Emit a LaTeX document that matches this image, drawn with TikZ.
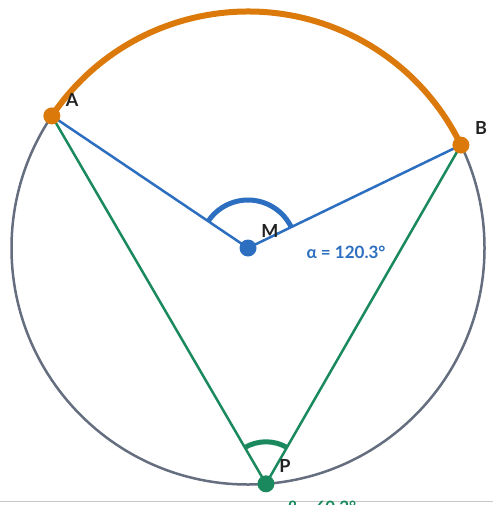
\documentclass[tikz,border=0pt]{standalone}
\usepackage{fontspec}
\setmainfont{Lato}
\usetikzlibrary{calc}
\definecolor{cgrey}{HTML}{646E7E}
\definecolor{corange}{HTML}{DB7A0A}
\definecolor{cblue}{HTML}{2C6FC0}
\definecolor{cgreen}{HTML}{1A8A5E}
\definecolor{clabel}{HTML}{222222}
\tikzset{
  circ/.style={draw=cgrey, line width=2.5pt},
  bluel/.style={draw=cblue, line width=2.5pt},
  greenl/.style={draw=cgreen, line width=2.5pt},
  orangearc/.style={draw=corange, line width=6pt},
  angarc/.style={line width=5pt},
  dot/.style={circle, inner sep=0pt, minimum size=17pt},
  ptlabel/.style={text=clabel, font=\fontsize{18}{18}\selectfont\bfseries, inner sep=0pt},
  anglabel/.style={font=\fontsize{17}{17}\selectfont\bfseries, inner sep=0pt}
}
\begin{document}
\begin{tikzpicture}[x=1pt,y=-1pt]
\useasboundingbox (0,0) rectangle (493,505);
\clip (0,0) rectangle (493,505);
\fill[white] (0,0) rectangle (493,505);
\coordinate (M) at (248,248);
\coordinate (A) at ($(M)+(213.96:236.5)$);
\coordinate (B) at ($(M)+(334.2:236.5)$);
\coordinate (P) at ($(M)+(85.64:236.5)$);
\draw[circ] (M) circle[radius=236.5];
\draw[orangearc] (A) arc[start angle=213.96, end angle=334.2, radius=236.5];
\draw[greenl] (A) -- (P) -- (B);
\draw[bluel] (A) -- (M) -- (B);
\draw[angarc, draw=cblue] ([shift={(213.96:48)}]M) arc[start angle=213.96, end angle=334.2, radius=48];
\draw[angarc, draw=cgreen] ([shift={(239.8:42)}]P) arc[start angle=239.8, end angle=299.9, radius=42];
\node[dot, fill=corange] (nA) at (A) {};
\node[dot, fill=corange] (nB) at (B) {};
\node[dot, fill=cblue] (nM) at (M) {};
\node[dot, fill=cgreen] (nP) at (P) {};
\node[ptlabel] (lA) at (72,100) {A};
\node[ptlabel] (lB) at (481,128) {B};
\node[ptlabel] (lM) at (270,231) {M};
\node[ptlabel] (lP) at (285,466) {P};
\node[anglabel, text=cblue] (la) at (346,252) {α = 120.3°};
\draw[draw=black!22, line width=1pt] (0,501.5) -- (493,501.5);
\node[anglabel, text=cgreen, anchor=base] (lb) at (322,513) {β = 60.2°};
\end{tikzpicture}
\end{document}
